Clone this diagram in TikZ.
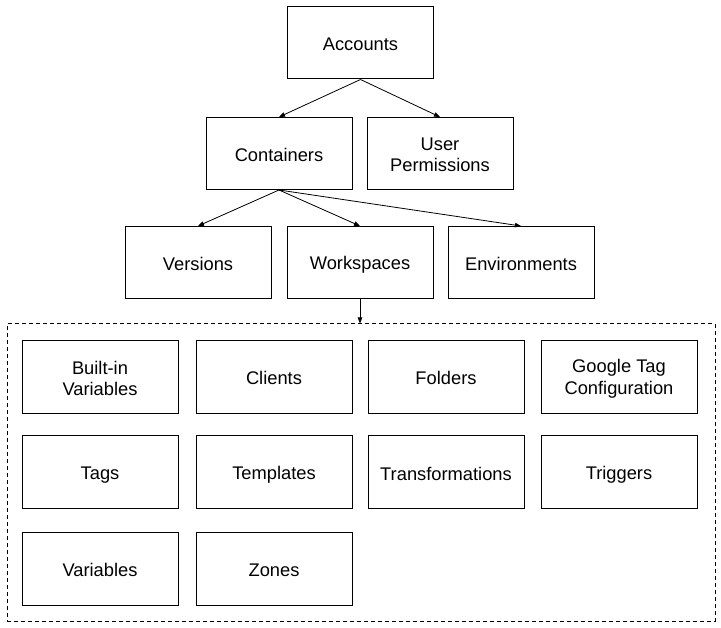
\documentclass[tikz,border=0pt]{standalone}
\usepackage{fontspec}
\setmainfont{Liberation Sans}
\usetikzlibrary{arrows.meta}
\newcommand\ls{\rule[-2pt]{0pt}{19.5pt}}
\begin{document}
\begin{tikzpicture}[x=1pt,y=1pt,
  box/.style={draw=black,line width=1pt,minimum width=146pt,minimum height=72pt,align=center,inner sep=0pt,font=\fontsize{18.3}{20.7}\selectfont},
  sbox/.style={box,minimum width=156pt,minimum height=73pt},
  conn/.style={line width=0.8pt,-{Triangle[length=6pt,width=4.5pt]}}]
\useasboundingbox (0,0) rectangle (721,-628);
\node[box] (acc) at (360.5,-43) {\ls Accounts};
\node[box] (con) at (279,-153.5) {\ls Containers};
\node[box] (usr) at (440,-153.5) {\ls User\\\ls Permissions};
\node[box] (ver) at (198,-262.5) {\ls Versions};
\node[box] (wsp) at (360,-262.5) {\ls Workspaces};
\node[box] (env) at (521,-262.5) {\ls Environments};
\node[draw=black,line width=1pt,dash pattern=on 4pt off 3pt,minimum width=708pt,minimum height=297pt,inner sep=0pt] (grp) at (361,-472.5) {};
\node[sbox] (biv) at (100,-377) {\ls Built-in\\\ls Variables};
\node[sbox] (cli) at (274,-377) {\ls Clients};
\node[sbox] (fol) at (446,-377) {\ls Folders};
\node[sbox] (gtc) at (619,-377) {\ls Google Tag\\\ls Configuration};
\node[sbox] (tag) at (100,-472.5) {\ls Tags};
\node[sbox] (tpl) at (274,-472.5) {\ls Templates};
\node[sbox] (trf) at (446,-472.5) {\ls Transformations};
\node[sbox] (trg) at (619,-472.5) {\ls Triggers};
\node[sbox] (var) at (100,-568.5) {\ls Variables};
\node[sbox] (zon) at (274,-568.5) {\ls Zones};
\draw[conn] (acc.south) -- (con.north);
\draw[conn] (acc.south) -- (usr.north);
\draw[conn] (con.south) -- (ver.north);
\draw[conn] (con.south) -- (wsp.north);
\draw[conn] (con.south) -- (env.north);
\draw[conn] (wsp.south) -- (wsp.south |- grp.north);
\end{tikzpicture}
\end{document}
